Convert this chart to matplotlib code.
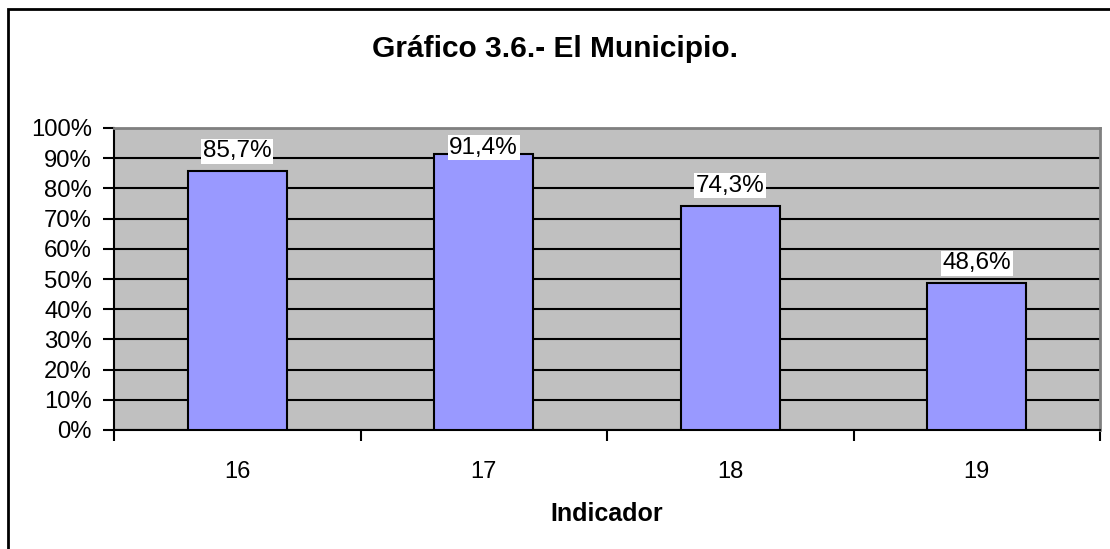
import matplotlib.pyplot as plt
from matplotlib.ticker import FixedLocator, NullFormatter
import numpy as np

# data
indicadores = ["16", "17", "18", "19"]
porcentajes = [85.7, 91.4, 74.3, 48.6]
etiquetas = ["85,7%", "91,4%", "74,3%", "48,6%"]

plt.rcParams['font.family'] = ['Liberation Sans', 'DejaVu Sans']

fig = plt.figure(figsize=(11.1, 5.49), dpi=100)
ax = fig.add_axes([114/1110, 1 - 430/549, 986/1110, 302/549])
ax.set_facecolor('#C0C0C0')

x = np.arange(len(indicadores))
ax.bar(x, porcentajes, width=0.4, color='#9999FF', edgecolor='black', linewidth=1.5, zorder=3)

ax.set_xlim(-0.5, len(indicadores) - 0.5)
ax.set_ylim(0, 100)

# grid
ax.set_yticks(np.arange(0, 101, 10))
ax.set_yticklabels([f"{v}%" for v in range(0, 101, 10)], fontsize=17.2)
ax.yaxis.grid(True, color='black', linewidth=1.5, zorder=1)
ax.set_axisbelow(True)

# x ticks at category boundaries, labels in the middle
ax.xaxis.set_major_locator(FixedLocator(np.arange(-0.5, len(indicadores), 1)))
ax.xaxis.set_major_formatter(NullFormatter())
ax.xaxis.set_minor_locator(FixedLocator(x))
ax.set_xticklabels(indicadores, minor=True, fontsize=17)
ax.tick_params(axis='x', which='minor', length=0, pad=22)
ax.tick_params(axis='x', which='major', length=8, width=1.5, direction='out')
ax.tick_params(axis='y', length=8, width=1.5, direction='out', pad=8)

for s in ['left', 'bottom']:
    ax.spines[s].set_color('black')
    ax.spines[s].set_linewidth(1.5)
for s in ['top', 'right']:
    ax.spines[s].set_color('#808080')
    ax.spines[s].set_linewidth(2)

# labels that would leave the plot area are pushed down (as Excel does)
for xi, v, lab in zip(x, porcentajes, etiquetas):
    ax.annotate(lab, (xi, min(v, 86.8)), xytext=(0, 6.5), textcoords='offset points',
                ha='center', va='bottom', fontsize=17.5, zorder=5,
                bbox=dict(facecolor='white', edgecolor='none', pad=1))

ax.set_xlabel("Indicador", fontsize=18, fontweight='bold', va='center')
ax.xaxis.set_label_coords(0.5, -84/302)
fig.text(555/1110, 1 - 49/549, "Gráfico 3.6.- El Municipio.", ha='center', va='center',
         fontsize=21.5, fontweight='bold')

# figure border
border = plt.Rectangle((8/1110, -0.05), 1.2, 1 - 9/549 + 0.05, transform=fig.transFigure,
                       fill=False, edgecolor='black', linewidth=2)
fig.patches.append(border)

fig.savefig("out.png", dpi=100, facecolor='white')
